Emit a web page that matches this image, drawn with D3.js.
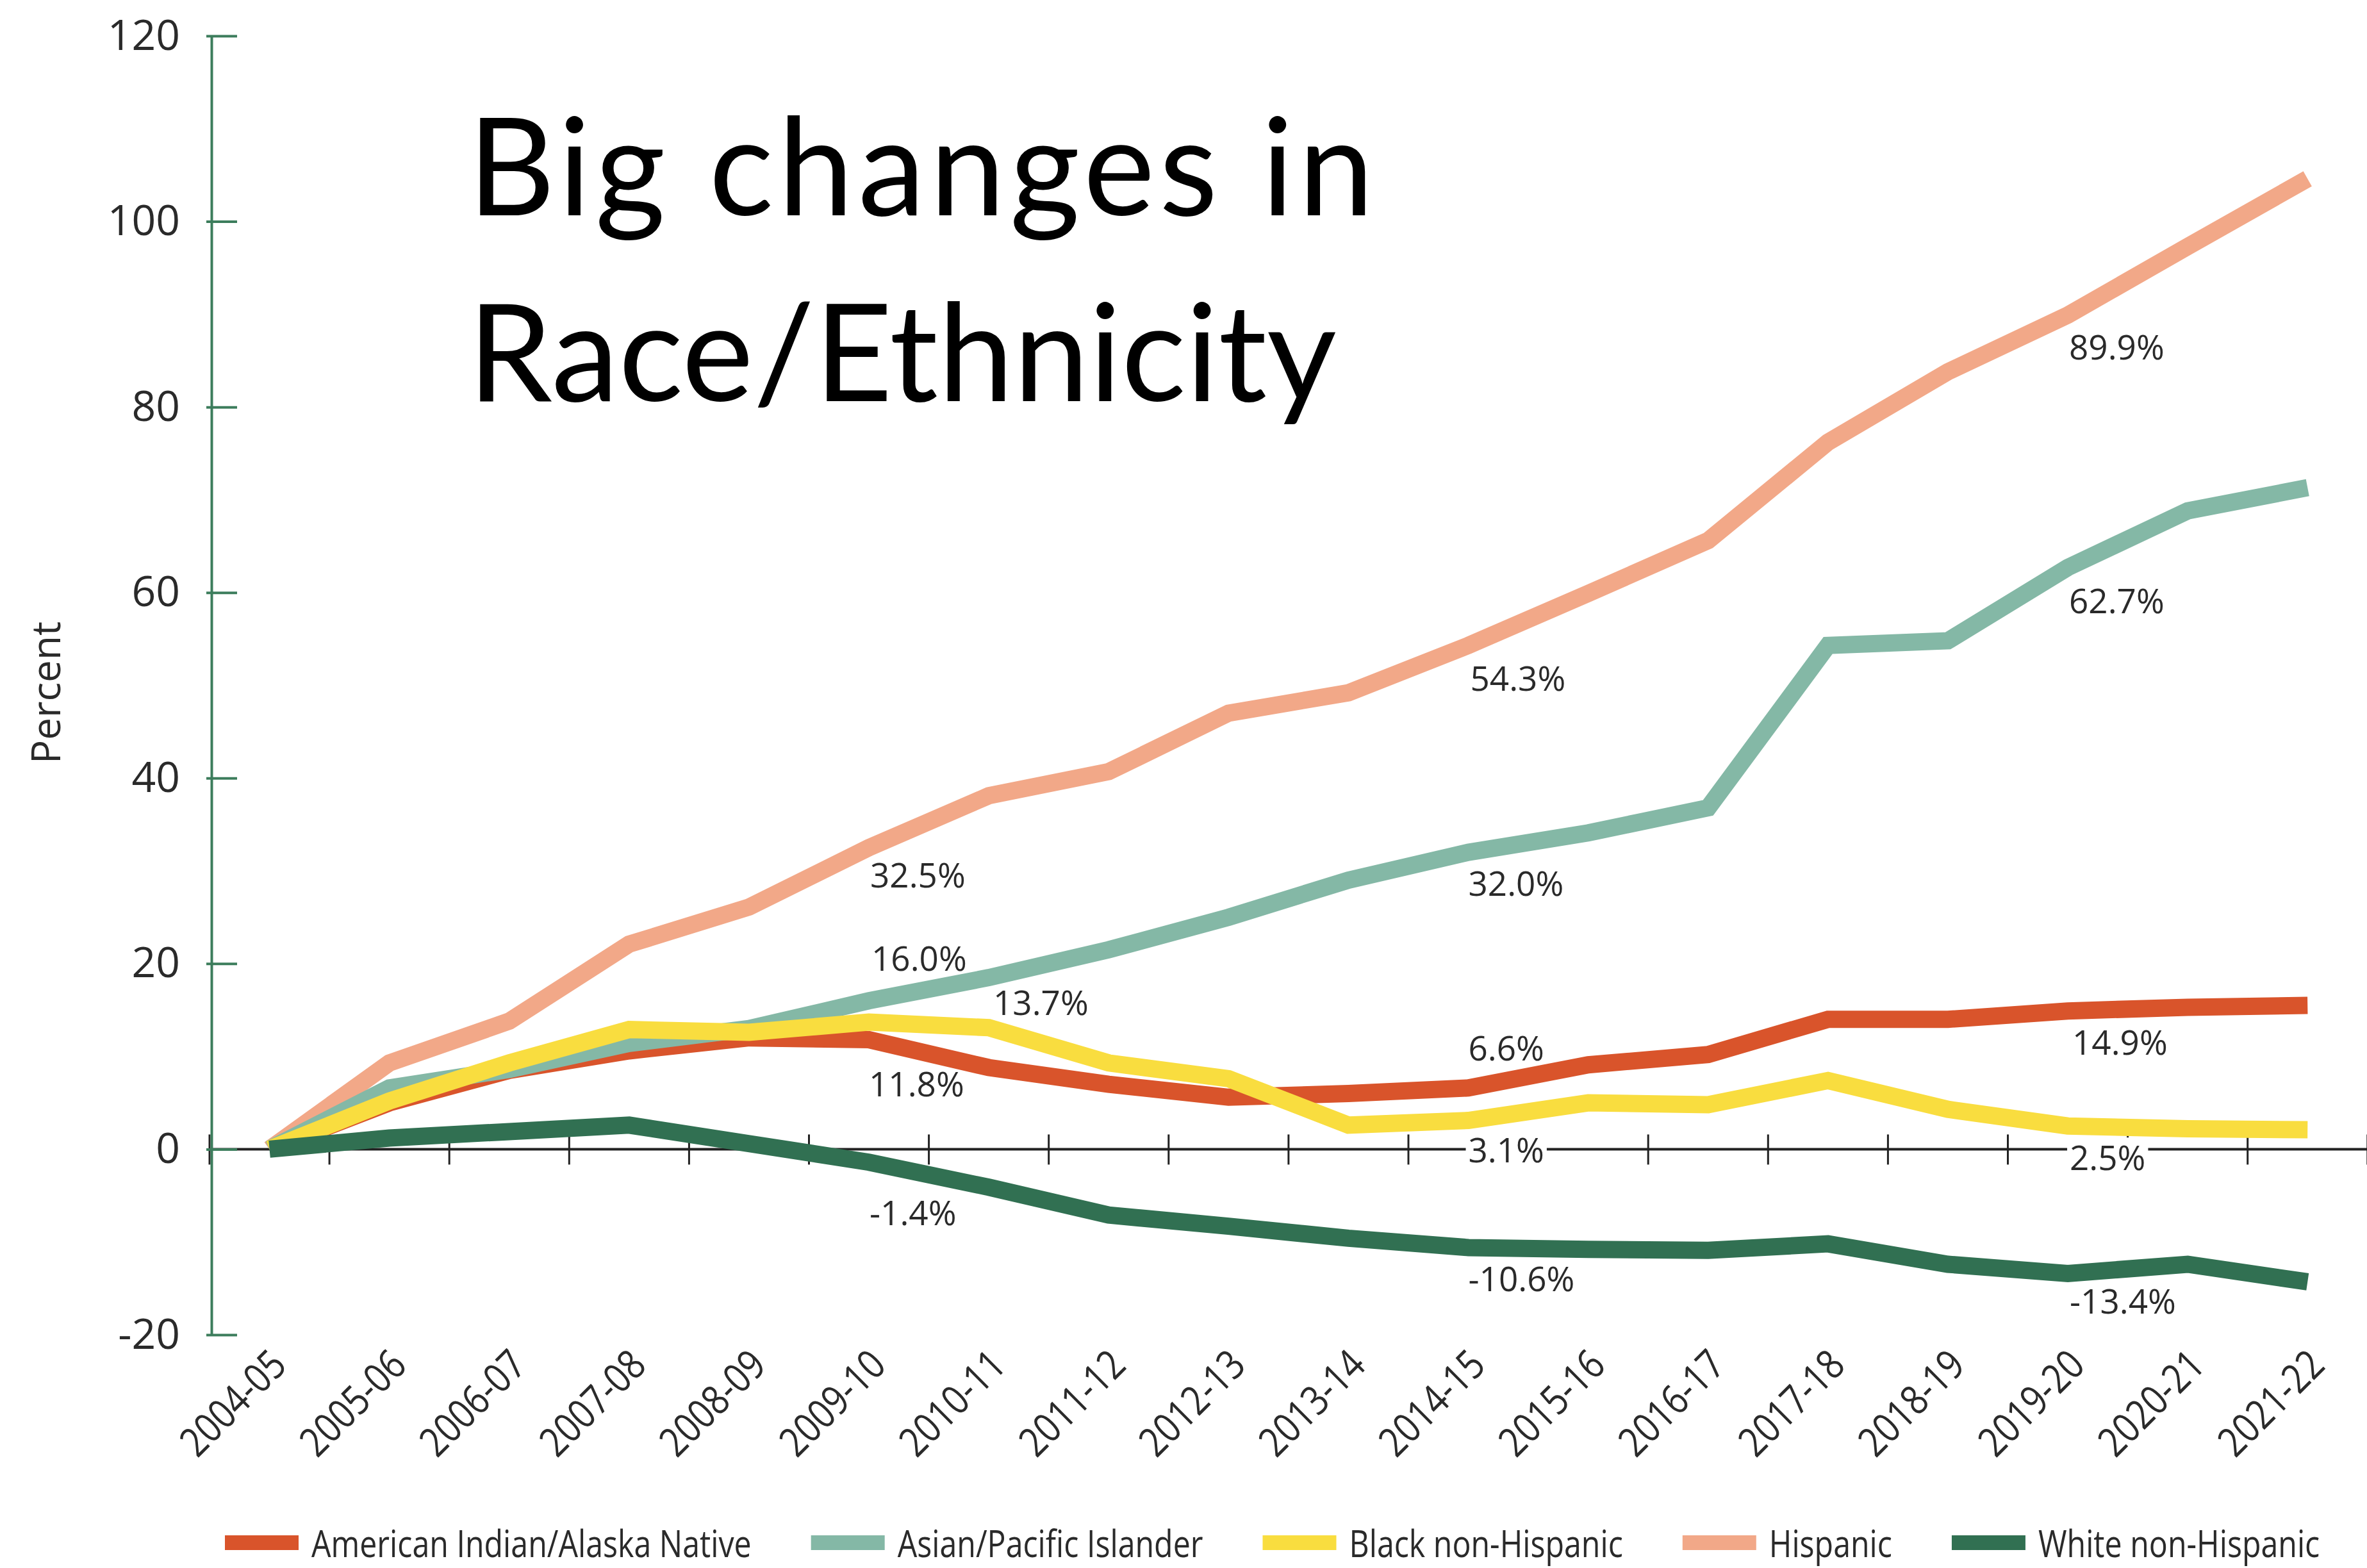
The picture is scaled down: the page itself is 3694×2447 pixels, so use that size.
<!DOCTYPE html>
<html lang="en">
<head>
<meta charset="utf-8">
<title>Big changes in Race/Ethnicity</title>
<script src="https://cdn.jsdelivr.net/npm/d3@7"></script>
<style>
body { margin: 0; background: #fff; }
svg { display: block; }
</style>
</head>
<body>
<script>
// school years
var categories = ["2004-05", "2005-06", "2006-07", "2007-08", "2008-09", "2009-10",
    "2010-11", "2011-12", "2012-13", "2013-14", "2014-15", "2015-16", "2016-17",
    "2017-18", "2018-19", "2019-20", "2020-21", "2021-22"];

// percent change since 2004-05
var aian     = [0, 5.0, 8.5, 10.6, 12.0, 11.8, 8.8, 7.0, 5.6, 6.0, 6.6, 9.1, 10.2, 14.0, 14.0, 14.9, 15.3, 15.5];
var asian    = [0, 6.6, 8.6, 11.4, 13.0, 16.0, 18.5, 21.5, 25.0, 29.0, 32.0, 34.1, 36.8, 54.3, 54.8, 62.7, 68.8, 71.3];
var black    = [0, 5.2, 9.3, 12.9, 12.6, 13.7, 13.1, 9.3, 7.6, 2.6, 3.1, 5.0, 4.8, 7.4, 4.3, 2.5, 2.2, 2.1];
var hispanic = [0, 9.3, 13.8, 22.1, 26.1, 32.5, 38.1, 40.7, 47.0, 49.2, 54.3, 59.9, 65.6, 76.2, 83.8, 89.9, 97.3, 104.6];
var white    = [0, 1.2, 1.9, 2.6, 0.6, -1.4, -4.1, -7.1, -8.3, -9.6, -10.6, -10.8, -10.9, -10.2, -12.4, -13.4, -12.4, -14.3];

var seriesNames = ["American Indian/Alaska Native", "Asian/Pacific Islander", "Black non-Hispanic", "Hispanic", "White non-Hispanic"];
var yTicks = [-20, 0, 20, 40, 60, 80, 100, 120];
var labelYears = [5, 10, 15];   // which points get a value label

var w = 3694, h = 2447;

var colors = ["#d9542b", "#84b8a6", "#f9dd3f", "#f2a888", "#317052"];
var values = [aian, asian, black, hispanic, white];
var drawOrder = [3, 0, 1, 2, 4];

// label nudges [dx, dy] from the data point, per series and labelled year
var labelNudge = [
    [[0, 88], [0, -43], [7, 68]],
    [[4, -47], [0, 68], [2, 71]],
    [[194, -11], [0, 65], [3, 69]],
    [[2, 62], [3, 71], [2, 69]],
    [[1, 98], [0, 68], [3, 63]]
];

var svg = d3.select("body").append("svg")
    .attr("width", w)
    .attr("height", h)
    .style("font-family", "'Open Sans', sans-serif");

var x = d3.scaleBand()
    .domain(categories)
    .range([327, 327 + 18 * 187.1]);

var y = d3.scaleLinear()
    .domain([-20, 120])
    .range([2083, 56]);

function cx(i) { return x(categories[i]) + x.bandwidth() / 2; }

// x axis at zero
var zero = y(0);
svg.append("line")
    .attr("x1", 330).attr("x2", w)
    .attr("y1", zero).attr("y2", zero)
    .attr("stroke", "#222").attr("stroke-width", 4);

d3.range(0, 19).forEach(function(k) {
    var tx = x.range()[0] + k * x.step();
    svg.append("line")
        .attr("x1", tx).attr("x2", tx)
        .attr("y1", zero - 23).attr("y2", zero + 24)
        .attr("stroke", "#222").attr("stroke-width", 3);
});

// y axis
var yAxis = svg.append("g")
    .attr("transform", "translate(330,0)")
    .call(d3.axisLeft(y).tickValues(yTicks).tickFormat(function(d) { return String(d); })
        .tickSizeInner(-40).tickSizeOuter(0).tickPadding(49));

yAxis.select(".domain").attr("stroke", "#3c7d5c").attr("stroke-width", 4);
yAxis.selectAll(".tick line")
    .attr("x1", -8)
    .attr("stroke", "#3c7d5c").attr("stroke-width", 4);
yAxis.selectAll(".tick text")
    .attr("font-size", 66)
    .attr("font-family", "'Open Sans', sans-serif")
    .attr("fill", "#2a2a2a");

svg.append("text")
    .attr("transform", "translate(94,1081) rotate(-90)")
    .attr("text-anchor", "middle")
    .attr("font-size", 62)
    .attr("fill", "#2a2a2a")
    .text("Percent");

// category labels (slightly condensed)
svg.append("g").selectAll("text")
    .data(categories)
    .enter()
    .append("text")
    .attr("transform", function(d, i) {
        return "translate(" + (cx(i) + 30) + ",2134) rotate(-45) scale(0.84,1)";
    })
    .attr("text-anchor", "end")
    .attr("font-size", 64)
    .attr("fill", "#2a2a2a")
    .text(function(d) { return d; });

// value labels: white boxes go under the lines, text on top
var boxes = svg.append("g");

var line = d3.line()
    .x(function(d, i) { return cx(i); })
    .y(function(d) { return y(d); });

var linesG = svg.append("g");
drawOrder.forEach(function(s) {
    linesG.append("path")
        .datum(values[s])
        .attr("fill", "none")
        .attr("stroke", colors[s])
        .attr("stroke-width", 27)
        .attr("stroke-linejoin", "miter")
        .attr("d", line);
});

var labels = svg.append("g");
values.forEach(function(vals, s) {
    labelYears.forEach(function(yi, j) {
        var t = labels.append("text")
            .attr("x", cx(yi) + labelNudge[s][j][0])
            .attr("y", y(vals[yi]) + labelNudge[s][j][1])
            .attr("font-size", 53)
            .attr("fill", "#2a2a2a")
            .text(vals[yi].toFixed(1) + "%");
        var b = t.node().getBBox();
        boxes.append("rect")
            .attr("x", b.x - 4).attr("y", b.y + 6)
            .attr("width", b.width + 8).attr("height", b.height - 10)
            .attr("fill", "#fff");
    });
});

// legend (text condensed horizontally)
var squeeze = 0.833;
var lx = 351;
seriesNames.forEach(function(name, i) {
    svg.append("rect")
        .attr("x", lx).attr("y", 2396)
        .attr("width", 115).attr("height", 23)
        .attr("fill", colors[i]);
    var t = svg.append("text")
        .attr("transform", "translate(" + (lx + 135) + ",2430) scale(" + squeeze + ",1)")
        .attr("font-size", 58)
        .attr("fill", "#2a2a2a")
        .text(name);
    var len = t.node().getComputedTextLength() * squeeze;
    lx += 135 + len + 93;
});

// title
var title = svg.append("g")
    .style("font-family", "Lato, sans-serif")
    .attr("font-size", 211)
    .attr("fill", "#000");
title.append("text").attr("x", 730).attr("y", 336)
    .style("letter-spacing", "7px")
    .text("Big changes in");
title.append("text").attr("x", 730).attr("y", 626)
    .text("Race/Ethnicity");
</script>
</body>
</html>
